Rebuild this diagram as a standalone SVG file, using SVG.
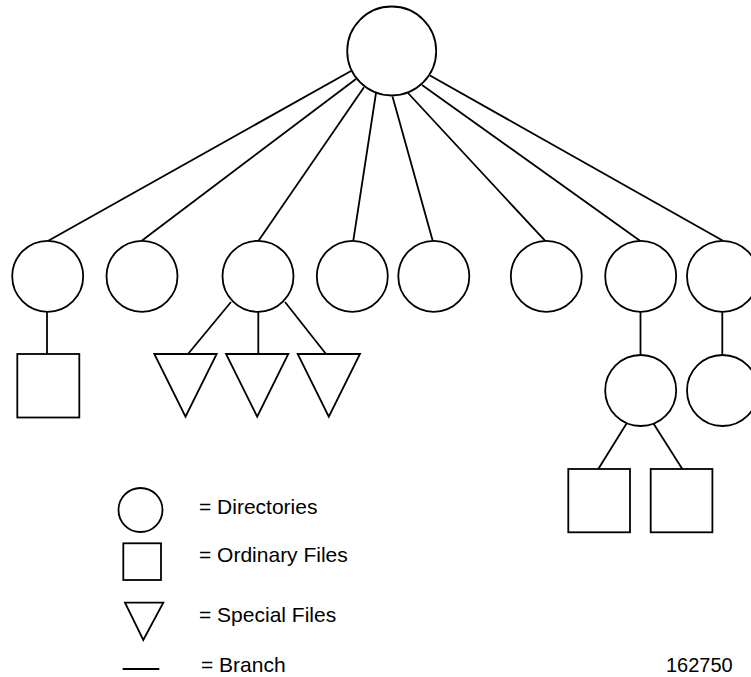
<svg xmlns="http://www.w3.org/2000/svg" width="751" height="677" viewBox="0 0 751 677">
  <style>
    .shape { fill: #fff; stroke: #000; stroke-width: 1.8; }
    .edge { stroke: #000; stroke-width: 1.8; fill: none; }
    .label { font-family: "Liberation Sans", Arial, sans-serif; font-size: 21px; fill: #000; }
  </style>
  <rect width="751" height="677" fill="#fff"/>

  <!-- branches -->
  <g id="connectors">
    <line class="edge" x1="351" y1="71" x2="48.3" y2="240.7"/>
    <line class="edge" x1="356" y1="79" x2="141.7" y2="240.7"/>
    <line class="edge" x1="364" y1="87.3" x2="258.5" y2="240.7"/>
    <line class="edge" x1="376" y1="93" x2="353.3" y2="240.7"/>
    <line class="edge" x1="392.5" y1="96.5" x2="432.7" y2="240.7"/>
    <line class="edge" x1="408" y1="93" x2="545" y2="240.7"/>
    <line class="edge" x1="422" y1="85" x2="640" y2="240.7"/>
    <line class="edge" x1="430" y1="75.5" x2="723" y2="240.7"/>
    <line class="edge" x1="47" y1="311.8" x2="47" y2="354"/>
    <line class="edge" x1="231" y1="302" x2="188" y2="354"/>
    <line class="edge" x1="258.3" y1="311.8" x2="258.3" y2="354"/>
    <line class="edge" x1="285" y1="302" x2="326" y2="354"/>
    <line class="edge" x1="640.5" y1="311.8" x2="640.5" y2="355"/>
    <line class="edge" x1="722.3" y1="311.8" x2="722.3" y2="355"/>
    <line class="edge" x1="626.7" y1="423.3" x2="598.3" y2="469"/>
    <line class="edge" x1="653.3" y1="423.3" x2="682.3" y2="469"/>
  </g>

  <!-- root directory -->
  <g id="root"><circle class="shape" cx="391.7" cy="51" r="44.5"/></g>

  <!-- first-level directories -->
  <g id="dir1"><circle class="shape" cx="47.7" cy="276.3" r="35.5"/></g>
  <g id="dir2"><circle class="shape" cx="142" cy="276.3" r="35.5"/></g>
  <g id="dir3"><circle class="shape" cx="258" cy="276.3" r="35.5"/></g>
  <g id="dir4"><circle class="shape" cx="352.3" cy="276.3" r="35.5"/></g>
  <g id="dir5"><circle class="shape" cx="433.8" cy="276.3" r="35.5"/></g>
  <g id="dir6"><circle class="shape" cx="546.3" cy="276.3" r="35.5"/></g>
  <g id="dir7"><circle class="shape" cx="640.7" cy="276.3" r="35.5"/></g>
  <g id="dir8"><circle class="shape" cx="722.5" cy="276.3" r="35.5"/></g>

  <!-- files under dir1 and dir3 -->
  <g id="file1"><rect class="shape" x="17.3" y="354" width="62" height="63.5"/></g>
  <g id="special1"><polygon class="shape" points="154.3,354 216.7,354 185.5,416.7"/></g>
  <g id="special2"><polygon class="shape" points="226,354 288.3,354 257.2,416.7"/></g>
  <g id="special3"><polygon class="shape" points="297.7,354 360,354 328.8,416.7"/></g>

  <!-- second-level directories -->
  <g id="dir7a"><circle class="shape" cx="640.7" cy="390.5" r="35.5"/></g>
  <g id="dir8a"><circle class="shape" cx="722.5" cy="390.5" r="35.5"/></g>

  <!-- files under dir7a -->
  <g id="file2"><rect class="shape" x="568.3" y="469" width="61.7" height="63.3"/></g>
  <g id="file3"><rect class="shape" x="650.7" y="469" width="61.7" height="63.3"/></g>

  <!-- legend -->
  <g id="legend">
    <circle class="shape" cx="140.5" cy="510" r="22"/>
    <rect class="shape" x="123.3" y="543.3" width="37.7" height="36.7"/>
    <polygon class="shape" points="125,602.7 163.3,602.7 143.3,640"/>
    <line class="edge" x1="122.7" y1="669" x2="159.3" y2="669"/>
    <text class="label" x="199" y="514">= Directories</text>
    <text class="label" x="199" y="562">= Ordinary Files</text>
    <text class="label" x="199" y="622">= Special Files</text>
    <text class="label" x="201" y="672">= Branch</text>
  </g>

  <text class="label" x="666" y="672" style="font-size:20px">162750</text>
</svg>
